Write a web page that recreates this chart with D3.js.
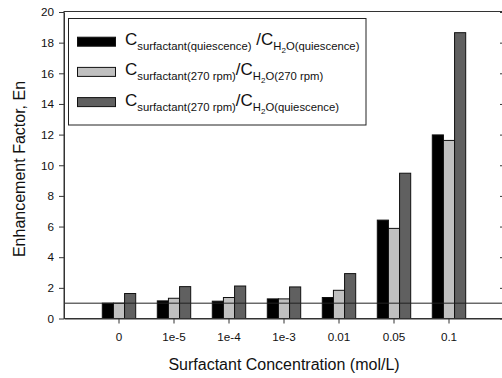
<!DOCTYPE html>
<html>
<head>
<meta charset="utf-8">
<script src="https://cdn.jsdelivr.net/npm/d3@7"></script>
<style>
  body { margin: 0; background: #fff; }
  svg { display: block; font-family: "Liberation Sans", Arial, sans-serif; }
</style>
</head>
<body>
<div id="chart"></div>
<script>
// concentration categories (mol/L)
const categories = ["0", "1e-5", "1e-4", "1e-3", "0.01", "0.05", "0.1"];
const series = ["quiescence", "rpm270", "rpm270VsQuiescence"];

// enhancement factors
const quiescence = [1.0, 1.15, 1.13, 1.28, 1.37, 6.42, 11.98];
const rpm270 = [1.0, 1.32, 1.37, 1.28, 1.84, 5.88, 11.62];
const rpm270VsQuiescence = [1.63, 2.08, 2.12, 2.06, 2.93, 9.48, 18.65];

const yTicks = [0, 2, 4, 6, 8, 10, 12, 14, 16, 18, 20];
const refLine = 1;

const colors = ["#000000", "#c0c0c0", "#606060"];

const width = 502;
const height = 378;
const margin = {top: 12, right: -2, bottom: 59, left: 64};

const svg = d3.select("#chart")
  .append("svg")
  .attr("width", width)
  .attr("height", height);

const x = d3.scaleBand()
  .domain(categories)
  .range([margin.left, width - margin.right])
  .paddingInner(0)
  .paddingOuter(0.5);

const xSub = d3.scaleBand()
  .domain(series)
  .range([-16.7, 16.7]);

const y = d3.scaleLinear()
  .domain([0, 20])
  .range([height - margin.bottom - 0.5, margin.top]);

const rows = categories.map((c, i) => ({
  cat: c,
  values: [quiescence[i], rpm270[i], rpm270VsQuiescence[i]]
}));

// bars
const groups = svg.append("g")
  .selectAll("g")
  .data(rows)
  .join("g")
  .attr("transform", d => `translate(${x(d.cat) + x.bandwidth() / 2},0)`);

groups.selectAll("rect")
  .data(d => d.values.map((v, j) => ({key: series[j], v, j})))
  .join("rect")
  .attr("x", d => xSub(d.key))
  .attr("y", d => y(d.v))
  .attr("width", xSub.bandwidth())
  .attr("height", d => y(0) - y(d.v))
  .attr("fill", d => colors[d.j])
  .attr("stroke", "#111")
  .attr("stroke-width", 1);

// reference line at En = 1
svg.append("line")
  .attr("x1", margin.left)
  .attr("x2", width)
  .attr("y1", y(refLine))
  .attr("y2", y(refLine))
  .attr("stroke", "#222")
  .attr("stroke-width", 1);

// frame
const frameColor = "#333";
svg.append("rect")
  .attr("x", margin.left)
  .attr("y", y(20) - 0.5)
  .attr("width", width - margin.right - margin.left)
  .attr("height", y(0) - y(20) + 0.5)
  .attr("fill", "none")
  .attr("stroke", frameColor)
  .attr("stroke-width", 1);

// left axis
const yAxis = svg.append("g")
  .attr("transform", `translate(${margin.left},0)`)
  .call(d3.axisLeft(y).tickValues(yTicks).tickSize(5).tickSizeOuter(0).tickPadding(5));

// right axis, ticks inward
const yAxisR = svg.append("g")
  .attr("transform", `translate(${width - margin.right},0)`)
  .call(d3.axisRight(y).tickValues(yTicks).tickSize(-4).tickSizeOuter(0).tickFormat(""));

// bottom axis
const xAxis = svg.append("g")
  .attr("transform", `translate(0,${y(0)})`)
  .call(d3.axisBottom(x).tickSize(5).tickSizeOuter(0).tickPadding(9));

[yAxis, yAxisR, xAxis].forEach(a => {
  a.select(".domain").attr("stroke", frameColor);
  a.selectAll(".tick line").attr("stroke", frameColor);
  a.selectAll("text")
    .attr("fill", "#111")
    .style("font-size", "11.7px")
    .style("font-family", "'Liberation Sans', Arial, sans-serif");
});

// axis titles
svg.append("text")
  .attr("x", 284)
  .attr("y", 370)
  .attr("text-anchor", "middle")
  .attr("fill", "#111")
  .style("font-size", "16px")
  .text("Surfactant Concentration (mol/L)");

svg.append("text")
  .attr("transform", "translate(25,169) rotate(-90)")
  .attr("text-anchor", "middle")
  .attr("fill", "#111")
  .style("font-size", "16px")
  .text("Enhancement Factor, En");

// legend
const legendParts = [
  [["C", 0], ["surfactant(quiescence)", 1], [" /C", 0], ["H", 1], ["2", 2], ["O(quiescence)", 1]],
  [["C", 0], ["surfactant(270 rpm)", 1], ["/C", 0], ["H", 1], ["2", 2], ["O(270 rpm)", 1]],
  [["C", 0], ["surfactant(270 rpm)", 1], ["/C", 0], ["H", 1], ["2", 2], ["O(quiescence)", 1]]
];
const levelSize = [17, 11.3, 8];
const levelShift = [0, 5, 8];

const legend = svg.append("g");
legend.append("rect")
  .attr("x", 68.5)
  .attr("y", 18.5)
  .attr("width", 297.5)
  .attr("height", 106.5)
  .attr("fill", "#fff")
  .attr("stroke", "#222")
  .attr("stroke-width", 1);

const legendRows = legend.selectAll("g.row")
  .data(legendParts)
  .join("g")
  .attr("class", "row")
  .attr("transform", (d, i) => `translate(0,${41.7 + i * 30.2})`);

legendRows.append("rect")
  .attr("x", 77.5)
  .attr("y", -4.5)
  .attr("width", 38)
  .attr("height", 9)
  .attr("fill", (d, i) => colors[i])
  .attr("stroke", "#111")
  .attr("stroke-width", 1);

legendRows.append("text")
  .attr("x", 125)
  .attr("y", 3.5)
  .attr("fill", "#111")
  .selectAll("tspan")
  .data(d => d.map((p, k) => ({t: p[0], lvl: p[1], prev: k ? d[k - 1][1] : 0})))
  .join("tspan")
  .attr("dy", d => levelShift[d.lvl] - levelShift[d.prev])
  .style("font-size", d => levelSize[d.lvl] + "px")
  .style("white-space", "pre")
  .text(d => d.t);
</script>
</body>
</html>
